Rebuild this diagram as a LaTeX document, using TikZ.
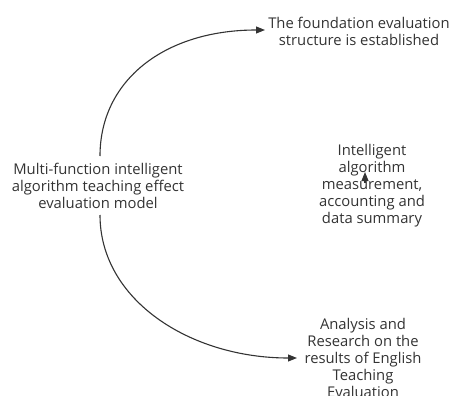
\documentclass[tikz,border=0pt]{standalone}
\usepackage{fontspec}
\setmainfont{Open Sans}
\usetikzlibrary{arrows.meta}
\begin{document}
\begin{tikzpicture}[x=1pt,y=-1pt,
  lbl/.style={align=center,inner sep=0pt,font=\fontsize{14.8}{17}\selectfont,text=black!80},
  flow/.style={draw=black!80,line width=1.1pt,-{Triangle[length=9pt,width=7pt]}}]
\useasboundingbox (0,0) rectangle (453,396);
\clip (0,0) rectangle (453,396);
% stage labels
\node[lbl] (found) at (359,31) {The foundation evaluation\\structure is established};
\node[lbl] (model) at (98,186) {Multi-function intelligent\\algorithm teaching effect\\evaluation model};
\node[lbl] (meas) at (372,186) {Intelligent\\algorithm\\measurement,\\accounting and\\data summary};
\node[lbl] (res) at (363,358) {Analysis and\\Research on the\\results of English\\Teaching\\Evaluation};
% connectors from the model to the stages
\coordinate (mtop) at (100,156);
\coordinate (mbot) at (100,215);
\coordinate (ftip) at (265,30);
\coordinate (rtip) at (297,358);
\draw[flow] (mtop) .. controls (100,80) and (165,30) .. (ftip);
\draw[flow] (mbot) .. controls (100,300) and (190,358) .. (rtip);
% collapsed connector into the measurement stage
\coordinate (mtip) at (365,172);
\coordinate (mbase) at (365,183);
\draw[flow] (mbase) -- (mtip);
\end{tikzpicture}
\end{document}
